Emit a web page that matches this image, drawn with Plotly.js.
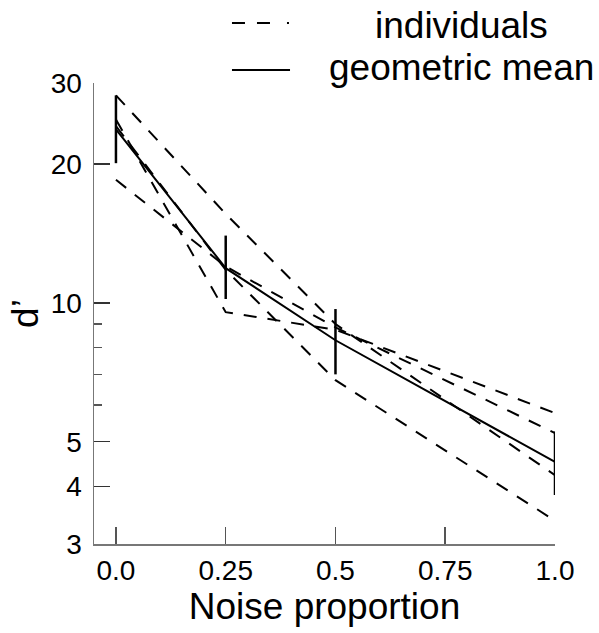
<!DOCTYPE html>
<html>
<head>
<meta charset="utf-8">
<script src="https://cdn.plot.ly/plotly-3.0.1.min.js"></script>
<style>html,body{margin:0;padding:0;background:#fff;}#chart{width:599px;height:633px;}</style>
</head>
<body>
<div id="chart"></div>
<script>
// ---- data ----
const noise = [0, 0.25, 0.5, 1.0];
const subj1 = [28.2, 15.6, 9.0, 4.23];
const subj2 = [25.0, 9.55, 8.75, 5.77];
const subj3 = [24.2, 11.8, 6.8, 3.37];
const subj4 = [18.5, 12.0, 8.85, 5.22];
const geoMean = [23.8, 11.9, 8.3, 4.52];
const errUpper = [4.4, 2.1, 1.4, 0.74];
const errLower = [3.7, 1.7, 1.3, 0.69];

const xTickVals = [0, 0.25, 0.5, 0.75, 1.0];
const xTickText = ['0.0', '0.25', '0.5', '0.75', '1.0'];
const yTickVals = [3, 4, 5, 10, 20, 30];
const yTickText = ['3', '4', '5', '10', '20', '30'];
const yMinorVals = [6, 7, 8, 9];
const legendNames = ['individuals', 'geometric mean'];

const FONT = 'Liberation Sans, Arial, Helvetica, sans-serif';
const DASH = '13px,11px';

const individuals = [subj1, subj2, subj3, subj4];
const traces = individuals.map(function (vals) {
  return {
    x: noise, y: vals, type: 'scatter', mode: 'lines',
    line: {color: '#000', width: 2, dash: DASH},
    showlegend: false, hoverinfo: 'skip'
  };
});
traces.push({
  x: noise, y: geoMean, type: 'scatter', mode: 'lines',
  line: {color: '#000', width: 2},
  error_y: {type: 'data', symmetric: false, array: errUpper, arrayminus: errLower,
            color: '#000', thickness: 2.5, width: 0},
  showlegend: false
});

const layout = {
  width: 599, height: 633,
  margin: {l: 94, r: 44, t: 83, b: 89},
  paper_bgcolor: '#fff', plot_bgcolor: '#fff',
  font: {family: FONT, color: '#000', size: 28},
  showlegend: false,
  xaxis: {
    range: [-0.05, 1.0],
    tickmode: 'array', tickvals: xTickVals, ticktext: xTickText,
    ticks: 'inside', ticklen: 17, tickwidth: 1.5, tickcolor: '#555',
    showline: true, linecolor: '#777', linewidth: 1.5,
    showgrid: false, zeroline: false,
    tickfont: {size: 28, family: FONT},
    ticklabelstandoff: 1,
    title: {text: 'Noise proportion', font: {size: 37, family: FONT}, standoff: 0}
  },
  yaxis: {
    type: 'log',
    range: [Math.log10(3), Math.log10(30)],
    tickmode: 'array', tickvals: yTickVals, ticktext: yTickText,
    ticks: 'inside', ticklen: 16, tickwidth: 1.5, tickcolor: '#333',
    minor: {tickvals: yMinorVals, ticks: 'inside', ticklen: 8, tickwidth: 1.5, tickcolor: '#555', showgrid: false},
    showline: true, linecolor: '#777', linewidth: 1.5,
    showgrid: false, zeroline: false,
    tickfont: {size: 28, family: FONT},
    ticklabelstandoff: 5,
    title: {text: 'd’', font: {size: 37, family: FONT}, standoff: 1}
  },
  shapes: [
    {type: 'line', xref: 'paper', yref: 'paper', x0: 0.2993, x1: 0.4252, y0: 1.130, y1: 1.130,
     line: {color: '#000', width: 2, dash: '13px,12px,13px,17px,2px'}},
    {type: 'line', xref: 'paper', yref: 'paper', x0: 0.2993, x1: 0.4252, y0: 1.028, y1: 1.028,
     line: {color: '#000', width: 2}}
  ],
  annotations: [
    {xref: 'paper', yref: 'paper', x: 0.798, y: 1.125, xanchor: 'center', yanchor: 'middle',
     text: legendNames[0], showarrow: false, font: {size: 37, family: FONT, color: '#000'}},
    {xref: 'paper', yref: 'paper', x: 0.798, y: 1.034, xanchor: 'center', yanchor: 'middle',
     text: legendNames[1], showarrow: false, font: {size: 37, family: FONT, color: '#000'}}
  ]
};

Plotly.newPlot('chart', traces, layout, {staticPlot: true, displayModeBar: false});
</script>
</body>
</html>
